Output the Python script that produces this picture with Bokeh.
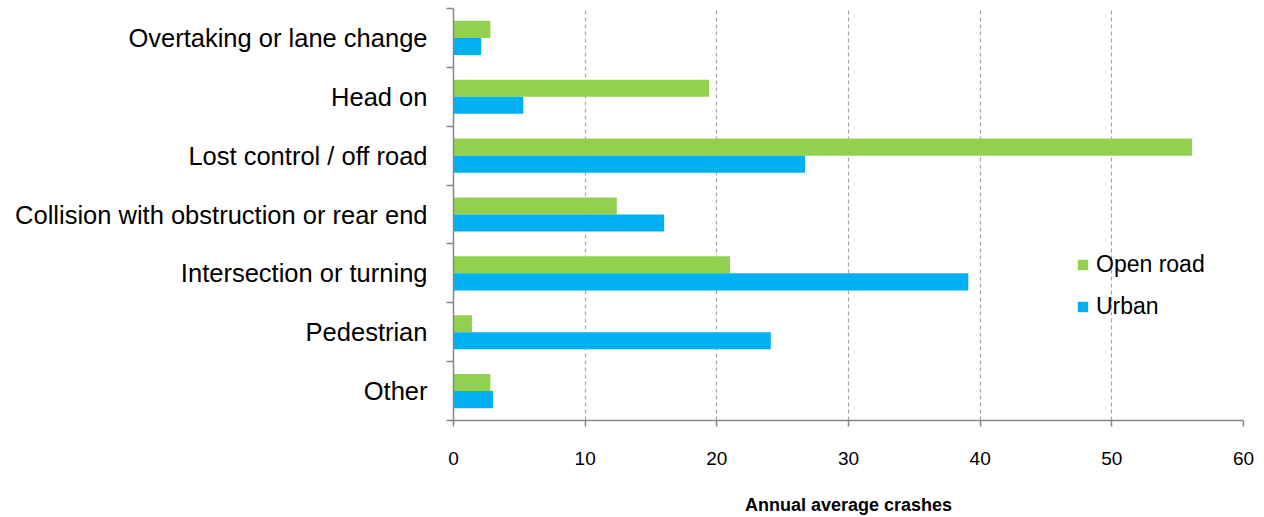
from bokeh.plotting import figure
from bokeh.models import (Range1d, FixedTicker, ColumnDataSource, LinearAxis,
                          Legend, LegendItem)
from bokeh.embed import file_html
from bokeh.resources import INLINE

# Annual average crashes by crash type
categories = [
    "Overtaking or lane change",
    "Head on",
    "Lost control / off road",
    "Collision with obstruction or rear end",
    "Intersection or turning",
    "Pedestrian",
    "Other",
]
open_road = [2.8, 19.4, 56.1, 12.4, 21.0, 1.4, 2.8]
urban = [2.1, 5.3, 26.7, 16.0, 39.1, 24.1, 3.0]
x_ticks = [0, 10, 20, 30, 40, 50, 60]

GREEN = "#92D050"
BLUE = "#00B0F0"
AXIS_GREY = "#868686"
FONT = "Liberation Sans"

n = len(categories)
bar_h = 0.29
# first category at the top: slot centres counted down from the top edge
centres = [n - i - 0.5 for i in range(n)]
src = ColumnDataSource(dict(
    cat=categories, open_road=open_road, urban=urban,
    y_open=[c + bar_h / 2 for c in centres],
    y_urban=[c - bar_h / 2 for c in centres],
))

p = figure(
    width=1264, height=517,
    y_range=Range1d(0, n),
    x_range=Range1d(x_ticks[0], x_ticks[-1]),
    y_axis_location=None,
    output_backend="svg", toolbar_location=None,
    min_border_left=453, min_border_right=21,
    min_border_top=8, min_border_bottom=94,
)
p.outline_line_color = None
for g in p.ygrid:
    g.visible = False

r_open = p.hbar(y="y_open", left=0, right="open_road", height=bar_h,
                fill_color=GREEN, line_color=None, source=src)
r_urban = p.hbar(y="y_urban", left=0, right="urban", height=bar_h,
                 fill_color=BLUE, line_color=None, source=src)

# x axis
xa = p.xaxis[0]
xa.ticker = FixedTicker(ticks=x_ticks)
xa.axis_line_color = AXIS_GREY
xa.axis_line_width = 1.5
xa.major_tick_line_color = AXIS_GREY
xa.major_tick_line_width = 1.5
xa.major_tick_out = 6
xa.major_tick_in = 0
xa.minor_tick_line_color = None
xa.major_label_text_font = FONT
xa.major_label_text_font_size = "19px"
xa.major_label_text_color = "#000000"
xa.major_label_standoff = 25
xa.axis_label = "Annual average crashes"
xa.axis_label_text_font = FONT
xa.axis_label_text_font_style = "bold"
xa.axis_label_text_font_size = "18px"
xa.axis_label_text_color = "#000000"
xa.axis_label_standoff = 27

p.xgrid.ticker = FixedTicker(ticks=x_ticks)
p.xgrid.grid_line_color = "#a6a6a6"
p.xgrid.grid_line_dash = "4 3"
p.xgrid.grid_line_width = 1.2

# y axis: names at slot centres, short ticks on the slot boundaries
ya = LinearAxis(
    ticker=FixedTicker(ticks=centres, minor_ticks=list(range(n + 1))),
    major_label_overrides={c: name for c, name in zip(centres, categories)},
)
ya.axis_line_color = AXIS_GREY
ya.axis_line_width = 1.5
ya.major_tick_line_color = None
ya.major_tick_out = 0
ya.major_tick_in = 0
ya.minor_tick_line_color = AXIS_GREY
ya.minor_tick_line_width = 1.5
ya.minor_tick_out = 7
ya.minor_tick_in = 0
ya.major_label_text_font = FONT
ya.major_label_text_font_size = "25.5px"
ya.major_label_text_color = "#000000"
ya.major_label_standoff = 19
p.add_layout(ya, "left")

legend = Legend(
    items=[LegendItem(label="Open road", renderers=[r_open]),
           LegendItem(label="Urban", renderers=[r_urban])],
    location=(623, 100),
    border_line_color=None, background_fill_alpha=0,
    glyph_width=13, glyph_height=13,
    label_text_font=FONT, label_text_font_size="23px",
    label_text_color="#000000", label_height=22, spacing=15,
    label_standoff=7, padding=5, margin=0,
)
p.add_layout(legend)

open("out.html", "w").write(file_html(p, INLINE))
